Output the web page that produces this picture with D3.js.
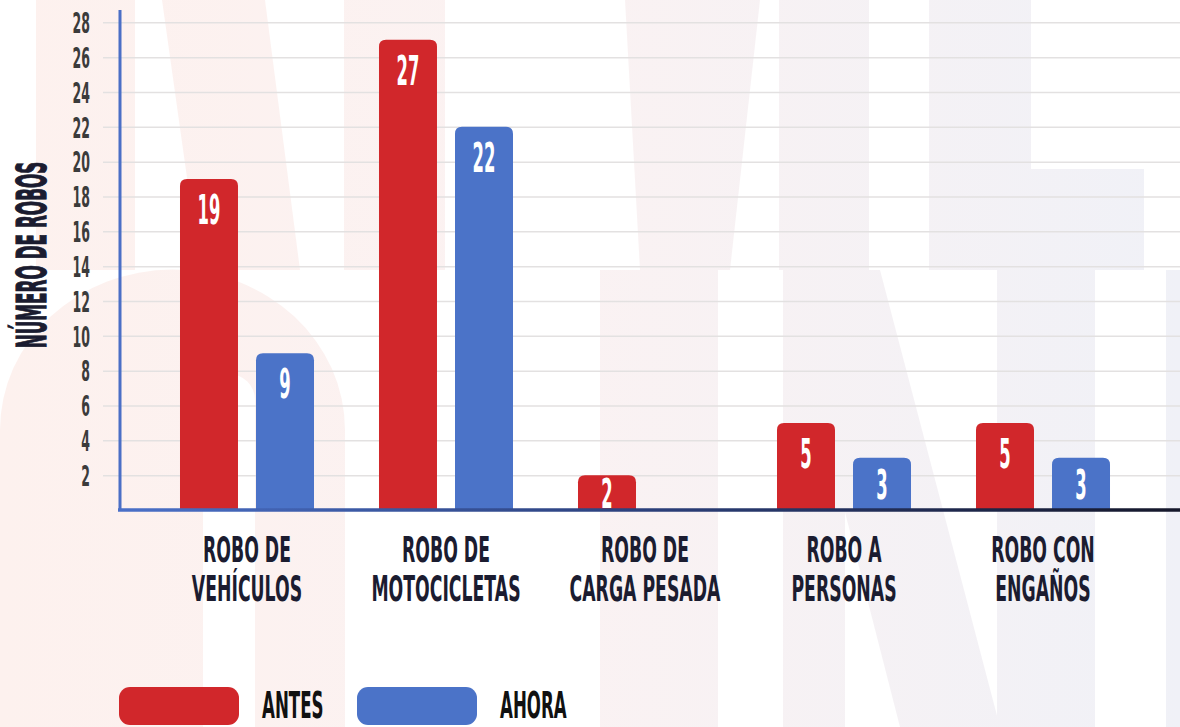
<!DOCTYPE html>
<html>
<head>
<meta charset="utf-8">
<script src="https://cdn.jsdelivr.net/npm/d3@7"></script>
<style>
  body { margin: 0; background: #fff; }
  svg { display: block; }
  .lbl { font-family: "DejaVu Sans", sans-serif; font-weight: bold; }
</style>
</head>
<body>
<div id="chart"></div>
<script>

var categories = ["Robo de vehículos", "Robo de motocicletas", "Robo de carga pesada", "Robo a personas", "Robo con engaños"];
var categoryLines = [["ROBO DE", "VEHÍCULOS"], ["ROBO DE", "MOTOCICLETAS"], ["ROBO DE", "CARGA PESADA"], ["ROBO A", "PERSONAS"], ["ROBO CON", "ENGAÑOS"]];
var seriesNames = ["ANTES", "AHORA"];
var antes = [19, 27, 2, 5, 5];
var ahora = [9, 22, 0, 3, 3];
var yTicks = [2, 4, 6, 8, 10, 12, 14, 16, 18, 20, 22, 24, 26, 28];

var width = 1180;
var height = 727;
var colors = {ANTES: "#d1272b", AHORA: "#4b73c8"};
var navy = "#1b1c30";

var svg = d3.select("#chart").append("svg")
  .attr("width", width)
  .attr("height", height);

var defs = svg.append("defs");

var wm = defs.append("linearGradient")
  .attr("id", "wm")
  .attr("gradientUnits", "userSpaceOnUse")
  .attr("x1", 0).attr("x2", width).attr("y1", 0).attr("y2", 0);
wm.append("stop").attr("offset", "0").attr("stop-color", "#fdf1ee");
wm.append("stop").attr("offset", "0.45").attr("stop-color", "#fbf2f2");
wm.append("stop").attr("offset", "1").attr("stop-color", "#f0f1f7");

var xg = defs.append("linearGradient")
  .attr("id", "xline")
  .attr("gradientUnits", "userSpaceOnUse")
  .attr("x1", 118).attr("x2", width).attr("y1", 0).attr("y2", 0);
xg.append("stop").attr("offset", "0").attr("stop-color", "#4a70c8");
xg.append("stop").attr("offset", "0.5").attr("stop-color", "#2b3f7a");
xg.append("stop").attr("offset", "1").attr("stop-color", "#15172a");

// faint background lettering
var shapes = [
  "M36,0H135V270H36Z",
  "M162,0H265L300,270H200Z",
  "M344,0H445V270H344Z",
  "M625,0H760L730,270H640Z",
  "M779,0H869V270H779Z",
  "M929,0H1031V169H1144V270H929Z",
  "M0,727V430A172,160 0 0 1 345,430V727H255V400A26,26 0 0 0 203,400V727Z",
  "M600,270H718V727H600Z",
  "M783,270H880L1000,727H900Z",
  "M783,270H845V727H783Z",
  "M997,270H1095V727H997Z",
  "M1166,270H1180V727H1166Z"
];
svg.append("g")
  .selectAll("path")
  .data(shapes)
  .enter().append("path")
  .attr("d", function(d) { return d; })
  .attr("fill", "url(#wm)");

var y = d3.scaleLinear()
  .domain([0, 28])
  .range([510, 22.3]);

var x0 = d3.scaleBand()
  .domain(categories)
  .range([115, 1175])
  .padding(0.3266);

var x1 = d3.scaleBand()
  .domain(seriesNames)
  .range([0, x0.bandwidth()])
  .paddingInner(0.237);

// gridlines
var grid = svg.append("g")
  .attr("transform", "translate(103,0)")
  .call(d3.axisLeft(y).tickValues(yTicks).tickSize(-(width - 103)).tickFormat(""));
grid.select(".domain").remove();
grid.selectAll("line").attr("stroke", "#e3e1e1").attr("stroke-width", 1.5);

// y tick labels
var yAxis = svg.append("g")
  .attr("transform", "translate(90,0)")
  .call(d3.axisLeft(y).tickValues(yTicks).tickSize(0).tickPadding(0));
yAxis.select(".domain").remove();
yAxis.selectAll("text")
  .attr("class", "lbl")
  .attr("x", 0)
  .attr("dy", "0.36em")
  .attr("transform", "scale(0.44,1)")
  .style("font-size", "28.5px")
  .attr("fill", "#3b3b3b");

function topRounded(x, yy, w, h, r) {
  r = Math.min(r, h, w / 2);
  return "M" + x + "," + (yy + h) +
    "V" + (yy + r) +
    "Q" + x + "," + yy + " " + (x + r) + "," + yy +
    "H" + (x + w - r) +
    "Q" + (x + w) + "," + yy + " " + (x + w) + "," + (yy + r) +
    "V" + (yy + h) + "Z";
}

var rows = categories.map(function(c, i) {
  return {cat: c, values: [{key: "ANTES", v: antes[i]}, {key: "AHORA", v: ahora[i]}]};
});

var groups = svg.append("g")
  .selectAll("g")
  .data(rows)
  .enter().append("g")
  .attr("transform", function(d) { return "translate(" + x0(d.cat) + ",0)"; });

var bars = groups.selectAll("g.bar")
  .data(function(d) { return d.values.filter(function(v) { return v.v > 0; }); })
  .enter().append("g")
  .attr("class", "bar");

bars.append("path")
  .attr("d", function(d) {
    return topRounded(x1(d.key), y(d.v), x1.bandwidth(), y(0) - y(d.v) + 1, 7);
  })
  .attr("fill", function(d) { return colors[d.key]; });

bars.append("text")
  .attr("class", "lbl")
  .attr("text-anchor", "middle")
  .attr("transform", function(d) {
    var h = y(0) - y(d.v);
    var cy = y(d.v) + Math.min(30, h / 2);
    return "translate(" + (x1(d.key) + x1.bandwidth() / 2) + "," + (cy + 15) + ") scale(0.4,1)";
  })
  .style("font-size", "41px")
  .attr("fill", "#fff")
  .text(function(d) { return d.v; });

// axis lines
svg.append("line")
  .attr("x1", 120).attr("x2", 120)
  .attr("y1", 10).attr("y2", 511)
  .attr("stroke", "#4a6fc6")
  .attr("stroke-width", 3);

svg.append("line")
  .attr("x1", 118).attr("x2", width)
  .attr("y1", 510).attr("y2", 510)
  .attr("stroke", "url(#xline)")
  .attr("stroke-width", 3.5);

// category labels
var xAxis = svg.append("g")
  .attr("transform", "translate(0,510)")
  .call(d3.axisBottom(x0).tickSize(0).tickPadding(0));
xAxis.select(".domain").remove();
xAxis.selectAll("text").each(function(d, i) {
  var t = d3.select(this)
    .text(null)
    .attr("class", "lbl")
    .attr("y", 52)
    .attr("dy", null)
    .attr("transform", "scale(0.48,1)")
    .style("font-size", "36px")
    .attr("fill", navy);
  categoryLines[i].forEach(function(line, j) {
    t.append("tspan")
      .attr("x", 0)
      .attr("dy", j == 0 ? 0 : 39)
      .text(line);
  });
});

// y title
svg.append("text")
  .attr("class", "lbl")
  .attr("text-anchor", "middle")
  .attr("transform", "translate(46,255) rotate(-90) scale(0.41,1)")
  .style("font-size", "41px")
  .attr("fill", navy)
  .attr("stroke", navy)
  .attr("stroke-width", 1.2)
  .text("NÚMERO DE ROBOS");

// legend
var legend = svg.append("g")
  .selectAll("g")
  .data(seriesNames)
  .enter().append("g")
  .attr("transform", function(d, i) { return "translate(" + (119 + i * 238) + ",687)"; });

legend.append("rect")
  .attr("width", 120)
  .attr("height", 38)
  .attr("rx", 11)
  .attr("fill", function(d) { return colors[d]; });

legend.append("text")
  .attr("class", "lbl")
  .attr("transform", "translate(143,31) scale(0.45,1)")
  .style("font-size", "37px")
  .attr("fill", "#111")
  .text(function(d) { return d; });

</script>
</body>
</html>
